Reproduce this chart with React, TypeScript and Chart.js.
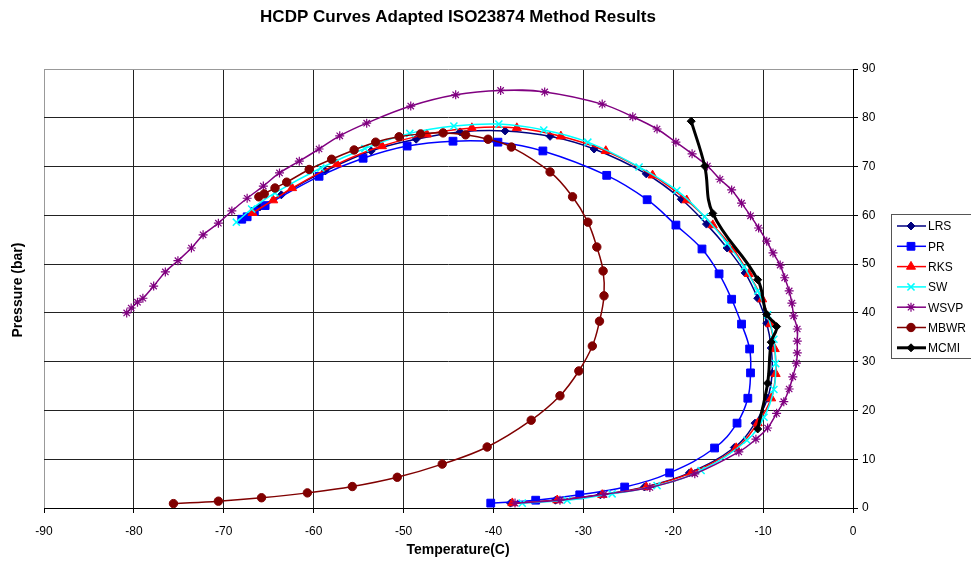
import React, { useEffect, useRef } from 'react';
import { Chart, registerables } from 'chart.js';
import { drawPoint } from 'chart.js/helpers';

Chart.register(...registerables);

const chartTitle = 'HCDP Curves Adapted ISO23874 Method Results';
const xTitle = 'Temperature(C)';
const yTitle = 'Pressure (bar)';

const seriesNames = ['LRS', 'PR', 'RKS', 'SW', 'WSVP', 'MBWR', 'MCMI'];

const lrsT = [-66.0, -63.6, -58.7, -53.6, -48.6, -43.7, -38.7, -33.7, -28.8, -23.0, -19.1, -16.3, -14.0, -12.0, -10.6, -9.6, -9.1, -9.0, -9.5, -10.9, -13.2, -18.2, -23.2, -28.1, -33.1, -38.1];
const lrsP = [61.7, 64.2, 69.1, 73.2, 75.6, 77.1, 77.3, 76.2, 73.6, 68.5, 63.3, 58.2, 53.3, 48.2, 43.0, 37.9, 32.8, 27.6, 22.5, 17.4, 12.4, 7.2, 4.3, 2.7, 1.6, 1.0];

const prT = [-68.0, -67.4, -66.6, -65.4, -59.4, -54.5, -49.6, -44.5, -39.5, -34.5, -27.4, -22.9, -19.7, -16.8, -14.9, -13.5, -12.4, -11.5, -11.4, -11.7, -12.9, -15.4, -20.4, -25.4, -30.4, -35.3, -40.3];
const prP = [59.2, 59.7, 60.8, 62.0, 68.0, 71.7, 74.2, 75.2, 75.0, 73.2, 68.2, 63.2, 58.0, 53.1, 48.0, 42.8, 37.7, 32.6, 27.7, 22.5, 17.4, 12.3, 7.2, 4.3, 2.7, 1.6, 1.0];

const rksT = [-66.8, -64.5, -62.4, -57.4, -52.4, -47.4, -42.4, -37.4, -32.5, -27.5, -22.3, -18.5, -15.6, -13.3, -11.6, -10.1, -9.2, -8.7, -8.6, -9.1, -10.6, -13.0, -18.0, -23.0, -27.9, -32.9, -37.9];
const rksP = [60.5, 63.1, 65.6, 70.5, 74.2, 76.6, 77.9, 77.9, 76.2, 73.2, 68.2, 63.1, 58.0, 53.0, 48.0, 42.8, 37.7, 32.6, 27.5, 22.5, 17.4, 12.3, 7.2, 4.3, 2.7, 1.6, 1.0];

const swT = [-68.6, -66.9, -64.3, -59.2, -54.3, -49.3, -44.4, -39.4, -34.4, -29.5, -23.8, -19.6, -16.5, -14.0, -12.1, -10.6, -9.5, -8.8, -8.6, -8.8, -9.9, -11.8, -16.9, -21.8, -26.8, -31.8, -36.8];
const swP = [58.6, 61.3, 64.6, 69.7, 73.7, 76.8, 78.3, 78.7, 77.5, 75.0, 69.9, 65.1, 59.7, 54.3, 49.4, 44.5, 39.6, 34.6, 29.6, 24.3, 18.6, 13.9, 7.7, 4.6, 2.9, 1.6, 1.0];

const wsvpT = [-80.8, -80.3, -79.6, -79.0, -77.8, -76.5, -75.1, -73.6, -72.3, -70.6, -69.1, -67.4, -65.6, -63.8, -61.6, -59.4, -57.1, -54.1, -49.2, -44.2, -39.2, -34.3, -27.9, -24.5, -21.8, -19.7, -17.9, -16.2, -14.8, -13.5, -12.4, -11.4, -10.5, -9.6, -8.9, -8.1, -7.6, -7.1, -6.8, -6.6, -6.2, -6.2, -6.2, -6.3, -6.7, -7.1, -7.7, -8.5, -9.5, -10.8, -12.7, -17.6, -22.6, -27.7, -32.6, -37.6];
const wsvpP = [40.0, 41.0, 42.2, 43.0, 45.5, 48.4, 50.7, 53.3, 56.0, 58.4, 60.9, 63.5, 66.0, 68.7, 71.1, 73.6, 76.3, 78.9, 82.4, 84.7, 85.6, 85.3, 82.8, 80.2, 77.7, 75.0, 72.6, 70.1, 67.4, 65.2, 62.5, 59.9, 57.4, 54.7, 52.3, 49.8, 47.2, 44.5, 42.0, 39.4, 36.7, 34.2, 31.8, 29.7, 26.9, 24.4, 21.8, 19.4, 16.4, 14.1, 11.5, 7.0, 4.2, 2.8, 1.6, 1.0];

const mbwrT = [-66.1, -65.5, -64.3, -63.0, -60.5, -58.0, -55.5, -53.1, -50.5, -48.1, -45.6, -43.1, -40.6, -38.0, -33.7, -31.2, -29.5, -28.5, -27.8, -27.7, -28.2, -29.0, -30.5, -32.6, -35.8, -40.7, -45.7, -50.7, -55.7, -60.7, -65.8, -70.6, -75.6];
const mbwrP = [63.8, 64.4, 65.6, 66.8, 69.4, 71.5, 73.4, 75.0, 76.1, 76.7, 76.9, 76.5, 75.6, 74.0, 68.9, 63.8, 58.6, 53.5, 48.6, 43.5, 38.3, 33.2, 28.1, 23.0, 18.0, 12.5, 9.0, 6.3, 4.4, 3.1, 2.1, 1.4, 0.9];

const mcmiT = [-18.0, -16.5, -15.6, -10.6, -9.6, -8.5, -9.1, -9.5, -10.6];
const mcmiP = [79.3, 70.1, 60.4, 46.8, 39.7, 37.2, 34.0, 25.6, 16.2];

const seriesT = [lrsT, prT, rksT, swT, wsvpT, mbwrT, mcmiT];
const seriesP = [lrsP, prP, rksP, swP, wsvpP, mbwrP, mcmiP];
const seriesColors = ['#000080', '#0000FF', '#FF0000', '#00FFFF', '#800080', '#800000', '#000000'];
const seriesMarkers = ['rectRot', 'rect', 'triangle', 'crossRot', 'star', 'circle', 'rectRot'];
const markerRadius = [4, 5.5, 5.2, 5, 4.5, 4.2, 4];
const lineWidths = [1.5, 1.5, 1.5, 1.5, 1.5, 1.5, 3];
const markerBorder = [1, 1, 1, 1.5, 1.2, 1, 1];

const FONT = '"Liberation Sans", Arial, Helvetica, sans-serif';

const decorPlugin = {
  id: 'decor',
  afterDraw(chart: any) {
    const ctx = chart.ctx as CanvasRenderingContext2D;
    ctx.save();
    ctx.fillStyle = '#000';
    ctx.textAlign = 'center';
    ctx.textBaseline = 'middle';
    ctx.font = 'bold 17px ' + FONT;
    ctx.fillText(chartTitle, 458, 17);
    ctx.font = 'bold 14px ' + FONT;
    ctx.fillText(xTitle, 458, 550);
    ctx.save();
    ctx.translate(18, 290);
    ctx.rotate(-Math.PI / 2);
    ctx.fillText(yTitle, 0, 0);
    ctx.restore();

    // legend
    ctx.fillStyle = '#fff';
    ctx.fillRect(891.5, 214.5, 90, 144);
    ctx.strokeStyle = '#555';
    ctx.lineWidth = 1;
    ctx.strokeRect(891.5, 214.5, 90, 144);
    ctx.textAlign = 'left';
    ctx.font = '12px ' + FONT;
    chart.data.datasets.forEach((ds: any, i: number) => {
      const y = 226 + i * 20.3;
      ctx.strokeStyle = ds.borderColor;
      ctx.lineWidth = ds.borderWidth;
      ctx.beginPath();
      ctx.moveTo(897, y);
      ctx.lineTo(926, y);
      ctx.stroke();
      ctx.fillStyle = ds.pointBackgroundColor;
      ctx.strokeStyle = ds.pointBorderColor;
      ctx.lineWidth = ds.pointBorderWidth;
      drawPoint(ctx, { pointStyle: ds.pointStyle, radius: ds.pointRadius, rotation: 0, borderWidth: ds.pointBorderWidth } as any, 911, y);
      ctx.fillStyle = '#000';
      ctx.fillText(ds.label, 928, y + 1);
    });
    ctx.restore();
  },
};

export default function App() {
  const ref = useRef<HTMLCanvasElement>(null);
  useEffect(() => {
    if (!ref.current) return;
    const datasets = seriesNames.map((name, i) => ({
      label: name,
      data: seriesT[i].map((t, k) => ({ x: t, y: seriesP[i][k] })),
      showLine: true,
      tension: 0.4,
      borderColor: seriesColors[i],
      borderWidth: lineWidths[i],
      backgroundColor: seriesColors[i],
      pointStyle: seriesMarkers[i],
      pointRadius: markerRadius[i],
      pointBackgroundColor: seriesColors[i],
      pointBorderColor: seriesColors[i],
      pointBorderWidth: markerBorder[i],
      order: seriesNames.length - i,
    }));
    const chart = new Chart(ref.current, {
      type: 'scatter',
      data: { datasets },
      options: {
        animation: false,
        responsive: false,
        maintainAspectRatio: false,
        layout: { padding: { left: 44, top: 69, right: 0, bottom: 0 } },
        plugins: { legend: { display: false }, title: { display: false }, tooltip: { enabled: false } },
        scales: {
          x: {
            type: 'linear',
            position: 'bottom',
            min: -90,
            max: 0,
            ticks: { stepSize: 10, color: '#000', font: { family: FONT, size: 12 }, padding: 11 },
            grid: {
              color: (c: any) => (c.tick && c.tick.value === -90 ? '#999' : '#222'),
              tickColor: '#000',
              tickLength: 5,
              lineWidth: 1,
            },
            border: { color: '#000', width: 1 },
            afterFit: (s: any) => { s.height = 56; },
          },
          y: {
            type: 'linear',
            position: 'right',
            min: 0,
            max: 90,
            ticks: { stepSize: 10, color: '#000', font: { family: FONT, size: 12 }, padding: 4 },
            grid: {
              color: (c: any) => (c.tick && c.tick.value === 90 ? '#999' : '#222'),
              tickColor: '#000',
              tickLength: 5,
              lineWidth: 1,
            },
            border: { color: '#000', width: 1 },
            afterFit: (s: any) => { s.width = 118; },
          },
        },
      },
      plugins: [decorPlugin],
    } as any);
    return () => chart.destroy();
  }, []);
  return (
    <div style={{ position: 'absolute', left: 0, top: 0, width: 971, height: 564, background: '#fff' }}>
      <canvas ref={ref} width={971} height={564} style={{ display: 'block' }} />
    </div>
  );
}
